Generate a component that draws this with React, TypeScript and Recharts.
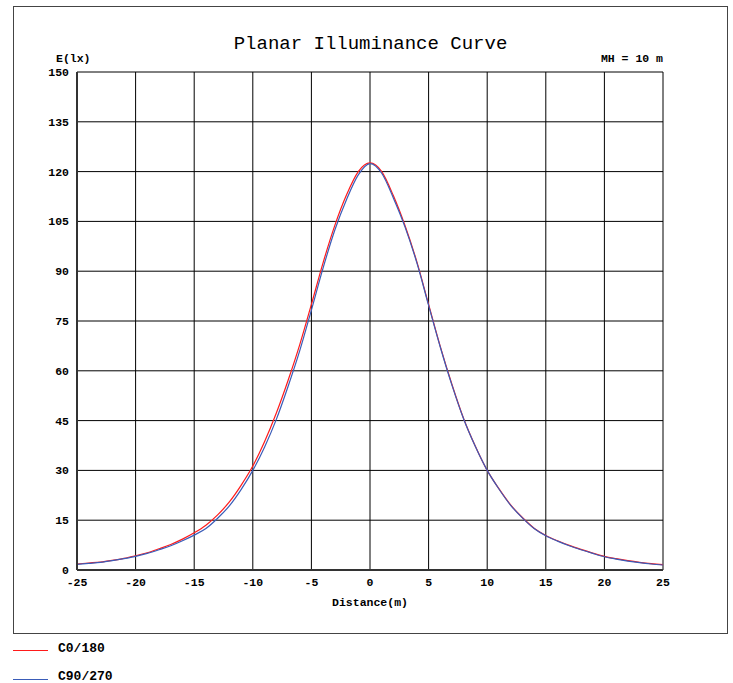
import React from 'react';
import { LineChart, Line, XAxis, YAxis, CartesianGrid } from 'recharts';

const distance = [
  -25, -24, -23, -22, -21, -20, -19, -18, -17, -16, -15, -14, -13, -12, -11, -10, -9, -8, -7, -6, -5, -4, -3, -2, -1,
  0, 1, 2, 3, 4, 5, 6, 7, 8, 9, 10, 11, 12, 13, 14, 15, 16, 17, 18, 19, 20, 21, 22, 23, 24, 25,
];

const c0_180 = [
  1.8, 2.1, 2.4, 2.9, 3.5, 4.3, 5.2, 6.4, 7.7, 9.3, 11.2, 13.5, 16.6, 20.5, 25.5, 31.3, 38.6, 47.2, 57, 67.8, 80, 92.6, 103.8, 113, 120,
  122.6, 120, 112.7, 103.6, 92.8, 80, 67.3, 55.8, 45.5, 37.2, 30, 24.5, 19.6, 15.8, 12.6, 10.4, 8.8, 7.4, 6.2, 5.1, 4.1, 3.4, 2.8, 2.3, 1.9, 1.6,
];

const c90_270 = [
  1.7, 2.0, 2.3, 2.8, 3.4, 4.1, 5.0, 6.1, 7.3, 8.8, 10.5, 12.5, 15.6, 19.3, 24.2, 30, 37, 45.3, 55.2, 66, 78.3, 91, 102.4, 111.6, 119,
  122.4, 119.5, 112, 103.2, 92.5, 79.7, 67.1, 55.6, 45.4, 37.1, 30, 24.4, 19.5, 15.7, 12.5, 10.3, 8.7, 7.3, 6.1, 5.0, 4.0, 3.3, 2.7, 2.2, 1.8, 1.5,
];

const xTicks = [-25, -20, -15, -10, -5, 0, 5, 10, 15, 20, 25];
const yTicks = [0, 15, 30, 45, 60, 75, 90, 105, 120, 135, 150];

const data = distance.map((d, i) => ({ d, c0: c0_180[i], c90: c90_270[i] }));

const mono = "'Liberation Mono', 'Courier New', monospace";
const tickStyle = { fontFamily: mono, fontSize: 11.5, fontWeight: 700, fill: '#000' };

export default function App() {
  return (
    <div style={{ position: 'absolute', left: 0, top: 0, width: 733, height: 683, background: '#fff', fontFamily: mono }}>
      <div
        style={{
          position: 'absolute',
          left: 13,
          top: 6,
          width: 713,
          height: 626,
          border: '1px solid #444',
        }}
      />
      <div style={{ position: 'absolute', left: 0, width: 741, top: 32, textAlign: 'center', fontSize: 19, lineHeight: '24px' }}>
        Planar Illuminance Curve
      </div>
      <div style={{ position: 'absolute', left: 56, top: 52, fontSize: 11.5, fontWeight: 700, lineHeight: '14px' }}>E(lx)</div>
      <div style={{ position: 'absolute', right: 70, top: 52, fontSize: 11.5, fontWeight: 700, lineHeight: '14px', whiteSpace: 'pre' }}>
        MH = 10 m
      </div>
      <div style={{ position: 'absolute', left: 0, width: 740, top: 596, textAlign: 'center', fontSize: 11.5, fontWeight: 700, lineHeight: '14px' }}>
        Distance(m)
      </div>
      <div style={{ position: 'absolute', left: 0, top: 0 }}>
        <LineChart width={733} height={683} data={data} margin={{ top: 72, right: 70, bottom: 83, left: 37 }}>
          <CartesianGrid stroke="#000" strokeWidth={1} />
          <XAxis
            dataKey="d"
            type="number"
            domain={[-25, 25]}
            ticks={xTicks}
            height={30}
            tickSize={0}
            tickMargin={8}
            tick={tickStyle}
            stroke="#333"
            strokeWidth={2}
            interval={0}
          />
          <YAxis
            type="number"
            domain={[0, 150]}
            ticks={yTicks}
            width={40}
            tickSize={0}
            tickMargin={8}
            tick={tickStyle}
            stroke="#333"
            strokeWidth={2}
            interval={0}
          />
          <Line type="monotone" dataKey="c0" stroke="#ff1a1a" strokeWidth={1.2} dot={false} isAnimationActive={false} />
          <Line type="monotone" dataKey="c90" stroke="#3a5cb8" strokeWidth={1.2} dot={false} isAnimationActive={false} />
        </LineChart>
      </div>
      <div style={{ position: 'absolute', left: 13, top: 650, width: 35, height: 1, background: '#ff1a1a' }} />
      <div style={{ position: 'absolute', left: 58, top: 641, fontSize: 13, fontWeight: 700, lineHeight: '16px' }}>C0/180</div>
      <div style={{ position: 'absolute', left: 13, top: 679, width: 35, height: 1, background: '#3a5cb8' }} />
      <div style={{ position: 'absolute', left: 58, top: 669, fontSize: 13, fontWeight: 700, lineHeight: '16px' }}>C90/270</div>
    </div>
  );
}
